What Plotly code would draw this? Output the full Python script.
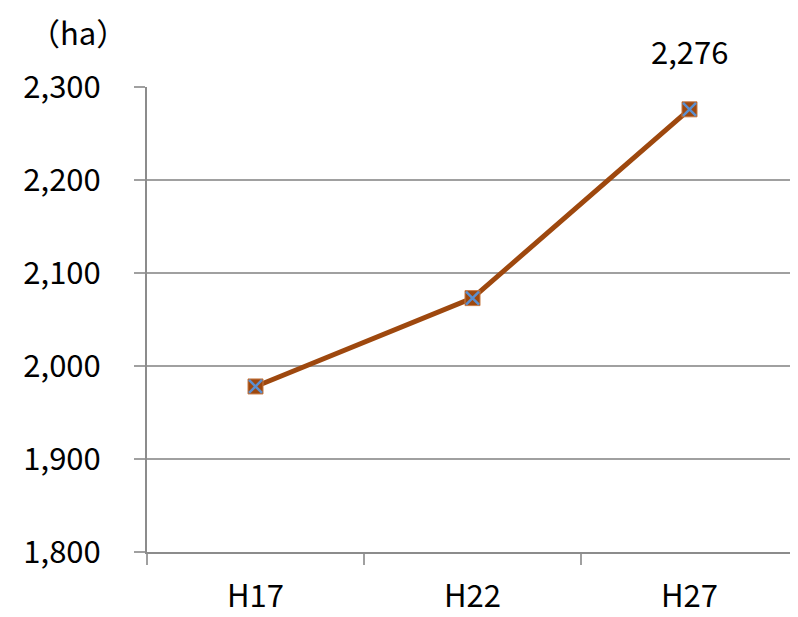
import plotly.graph_objects as go

categories = ["H17", "H22", "H27"]
values = [1978, 2073, 2276]
y_tickvals = [1800, 1900, 2000, 2100, 2200, 2300]
y_ticktext = ["1,800", "1,900", "2,000", "2,100", "2,200", "2,300"]
unit_label = "（ha）"

LINE = "#9E480E"
XCOL = "#5B8FD0"
FONT = "Noto Sans CJK JP"
FS = 31

fig = go.Figure()
fig.add_trace(go.Scatter(
    x=categories, y=values, mode="lines+markers",
    line=dict(color=LINE, width=5),
    marker=dict(symbol="square", size=15, color=LINE,
                line=dict(color="#C77A45", width=1)),
    showlegend=False, hoverinfo="skip"))
fig.add_trace(go.Scatter(
    x=categories, y=values, mode="markers",
    marker=dict(symbol="x-thin-open", size=13, color=XCOL,
                line=dict(color=XCOL, width=2.5)),
    showlegend=False))

fig.add_annotation(x=categories[-1], y=values[-1],
                   text=f"{values[-1]:,}", showarrow=False,
                   yshift=59, font=dict(family=FONT, size=FS, color="black"))
fig.add_annotation(xref="paper", yref="paper", x=-0.027, y=1.0,
                   xanchor="right", yanchor="bottom", yshift=31,
                   text=unit_label, showarrow=False,
                   font=dict(family=FONT, size=FS, color="black"))

fig.update_layout(
    width=790, height=609,
    margin=dict(l=139, r=0, t=79, b=65),
    plot_bgcolor="white", paper_bgcolor="white",
    font=dict(family=FONT, size=FS, color="black"),
    xaxis=dict(type="category", range=[-0.5, 2.5], tickson="boundaries",
               showgrid=False, showline=True, linecolor="#8C8C8C", linewidth=2,
               ticks="outside", ticklen=11, tickwidth=2, tickcolor="#A0A0A0",
               ticklabelstandoff=16, zeroline=False, automargin=False),
    yaxis=dict(range=[1800, 2300], tickvals=y_tickvals, ticktext=y_ticktext,
               showgrid=True, gridcolor="#A0A0A0", gridwidth=2,
               showline=True, linecolor="#8C8C8C", linewidth=2,
               ticks="outside", ticklen=11, tickwidth=2, tickcolor="#A0A0A0",
               ticklabelstandoff=27, zeroline=False, automargin=False),
)

fig.write_html("out.html")
